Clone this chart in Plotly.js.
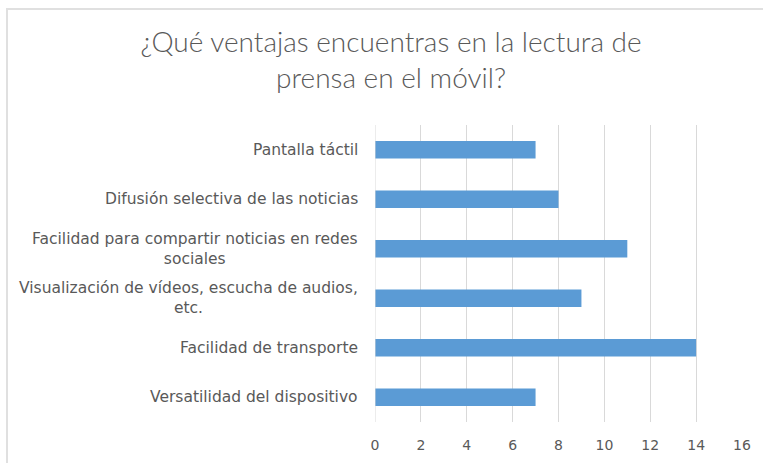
<!DOCTYPE html>
<html>
<head>
<meta charset="utf-8">
<script src="https://cdn.plot.ly/plotly-3.0.1.min.js"></script>
<style>
  html, body { margin: 0; padding: 0; background: #ffffff; overflow: hidden; }
  #chart { position: absolute; left: 0; top: 0; width: 763px; height: 463px; }
  #frame { position: absolute; left: 6px; top: 8px; width: 900px; height: 600px;
           border-left: 2px solid #e0e0e0; border-top: 2px solid #e0e0e0; pointer-events: none; }
</style>
</head>
<body>
<div id="chart"></div>
<div id="frame"></div>
<script>
// Categories listed bottom to top
const categories = [
  "Versatilidad del dispositivo",
  "Facilidad de transporte",
  "Visualización de vídeos, escucha de audios,<br>etc.",
  "Facilidad para compartir noticias en redes<br>sociales",
  "Difusión selectiva de las noticias",
  "Pantalla táctil"
];
const values = [7, 14, 9, 11, 8, 7];
const xTicks = [0, 2, 4, 6, 8, 10, 12, 14, 16];
const titleText = "¿Qué ventajas encuentras en la lectura de<br>prensa en el móvil?";

const textColor = "#595959";
const labelFont = "'DejaVu Sans', sans-serif";
const titleFont = "Lato, 'Open Sans', sans-serif";

const trace = {
  type: "bar",
  orientation: "h",
  x: values,
  y: categories,
  marker: { color: "#5b9bd5" },
  hoverinfo: "x+y"
};

const annotations = categories.map(c => ({
  xref: "paper", yref: "y",
  x: 0, y: c,
  xanchor: "right", yanchor: "middle",
  xshift: -15,
  align: "center",
  text: c,
  showarrow: false,
  font: { family: labelFont, size: 15.5, color: textColor }
}));

const layout = {
  width: 763, height: 463,
  margin: { l: 375, r: 21, t: 125, b: 41, pad: 0 },
  paper_bgcolor: "#ffffff",
  plot_bgcolor: "#ffffff",
  showlegend: false,
  bargap: 0.65,
  title: {
    text: titleText,
    x: 391 / 763, xanchor: "center",
    y: 1 - 52 / 463, yanchor: "top",
    font: { family: titleFont, size: 28, weight: 300, color: textColor }
  },
  xaxis: {
    range: [0, 16],
    tickvals: xTicks,
    ticktext: xTicks.map(String),
    showgrid: true,
    gridcolor: "#d9d9d9",
    gridwidth: 1,
    zeroline: false,
    showline: false,
    ticks: "outside",
    ticklen: 10,
    tickcolor: "rgba(0,0,0,0)",
    tickfont: { family: labelFont, size: 14, color: textColor },
    fixedrange: true
  },
  yaxis: {
    type: "category",
    categoryorder: "array",
    categoryarray: categories,
    showticklabels: false,
    showgrid: false,
    zeroline: false,
    showline: false,
    fixedrange: true
  },
  shapes: [{
    type: "line", xref: "x", yref: "paper",
    x0: 0, x1: 0, y0: 0, y1: 1,
    line: { color: "#d9d9d9", width: 1 }
  }],
  annotations: annotations
};

Plotly.newPlot("chart", [trace], layout, { displayModeBar: false, staticPlot: true });
</script>
</body>
</html>
